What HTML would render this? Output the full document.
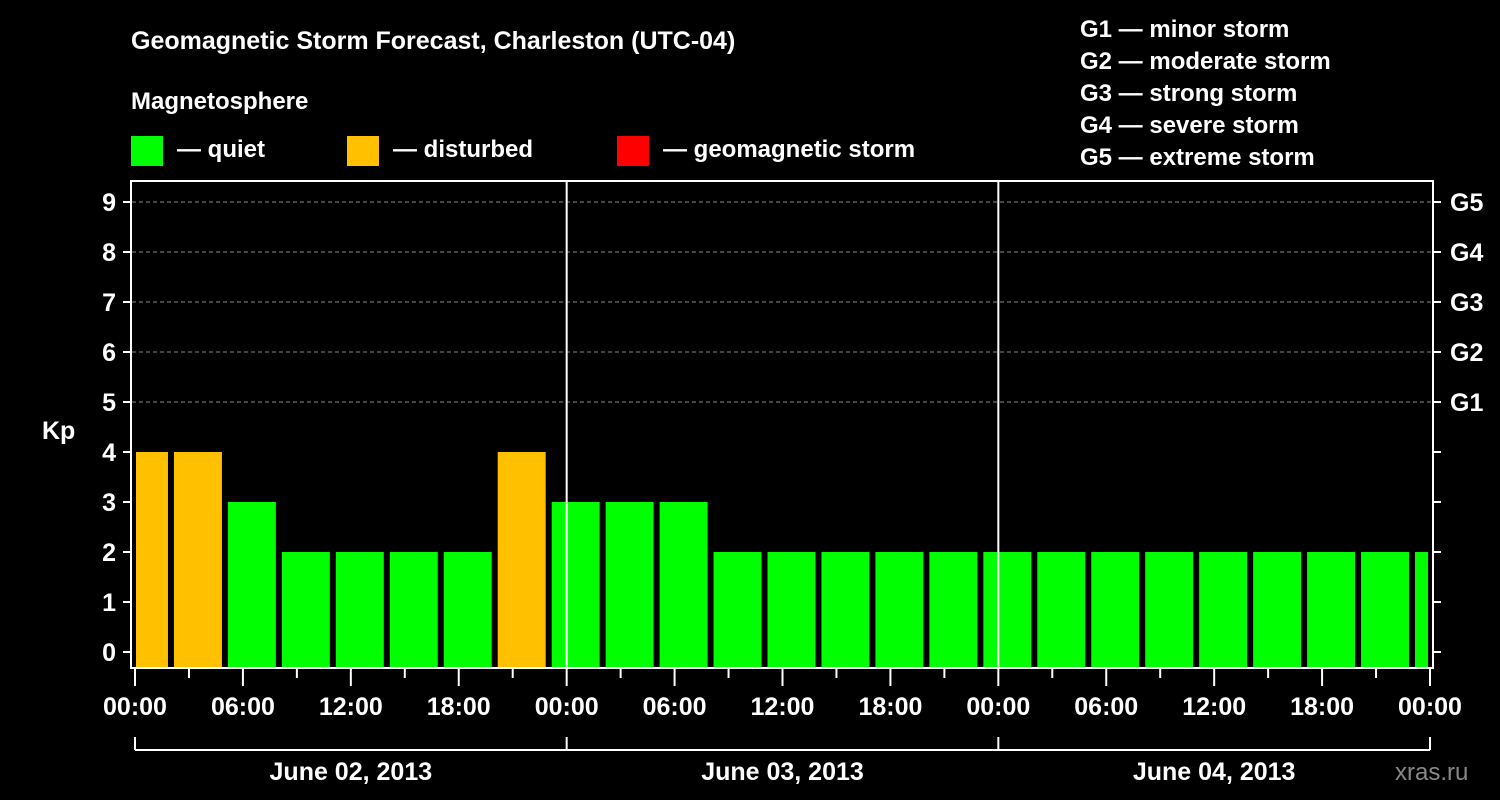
<!DOCTYPE html>
<html><head><meta charset="utf-8"><style>
body{margin:0;background:#000;}
svg{display:block;font-family:"Liberation Sans",sans-serif;font-weight:bold;}
</style></head><body>
<svg id="c" width="1500" height="800" xmlns="http://www.w3.org/2000/svg">
<rect width="1500" height="800" fill="#000"/>
<text x="131" y="49" fill="#fff" font-size="25">Geomagnetic Storm Forecast, Charleston (UTC-04)</text>
<text x="131" y="109" fill="#fff" font-size="24">Magnetosphere</text>
<g><rect x="131" y="136" width="32" height="30" fill="#00ff00"/><text x="177" y="157" fill="#fff" font-size="24">— quiet</text></g>
<g><rect x="347" y="136" width="32" height="30" fill="#ffc000"/><text x="393" y="157" fill="#fff" font-size="24">— disturbed</text></g>
<g><rect x="617" y="136" width="32" height="30" fill="#ff0000"/><text x="663" y="157" fill="#fff" font-size="24">— geomagnetic storm</text></g>
<g fill="#fff" font-size="24">
<text x="1080" y="37">G1 — minor storm</text><text x="1080" y="69">G2 — moderate storm</text><text x="1080" y="101">G3 — strong storm</text><text x="1080" y="133">G4 — severe storm</text><text x="1080" y="165">G5 — extreme storm</text></g>
<text x="42" y="439" fill="#fff" font-size="25">Kp</text>
<text x="1395" y="780" fill="#888" font-size="24" font-weight="normal">xras.ru</text>
<g id="plot"></g>
<rect x="131" y="181" width="1302" height="487" fill="none" stroke="#fff" stroke-width="2"/>
</svg>
<script>
const values=[4,4,3,2,2,2,2,4,3,3,3,2,2,2,2,2,2,2,2,2,2,2,2,2,2];
const yTicks=[0,1,2,3,4,5,6,7,8,9];
const gLabels=["","","","","","G1","G2","G3","G4","G5"];
const xLabels=["00:00","06:00","12:00","18:00","00:00","06:00","12:00","18:00","00:00","06:00","12:00","18:00","00:00"];
const dates=["June 02, 2013","June 03, 2013","June 04, 2013"];
const NS="http://www.w3.org/2000/svg";
const X=h=>135+h*(1295/72);
const Y=v=>652-v*50;
const P=document.getElementById('plot');
function mk(t,a,p){const e=document.createElementNS(NS,t);for(const k in a)e.setAttribute(k,a[k]);(p||P).appendChild(e);return e;}
yTicks.forEach((v,i)=>{
 if(v>=5){const l=mk('line',{x1:132,x2:1432,y1:Y(v),y2:Y(v),stroke:'#888','stroke-dasharray':'4,3'});
 
 }
 mk('line',{x1:123,x2:131,y1:Y(v),y2:Y(v),stroke:'#fff','stroke-width':2});
 mk('line',{x1:1433,x2:1441,y1:Y(v),y2:Y(v),stroke:'#fff','stroke-width':2});
 const t=mk('text',{x:116,y:Y(v)+9,fill:'#fff','font-size':25,'text-anchor':'end'});t.textContent=v;
 
 
 if(gLabels[i]){const g=mk('text',{x:1450,y:Y(v)+9,fill:'#fff','font-size':25});g.textContent=gLabels[i];
 
 }
});
values.forEach((v,i)=>{
 const s=-1+3*i, e=s+3;
 const x0=Math.max(X(s)+3,136), x1=Math.min(X(e)-3,1428);
 const r=mk('rect',{x:x0,y:Y(v),width:x1-x0,height:667-Y(v),fill:v>=5?'#ff0000':v>=4?'#ffc000':'#00ff00'});
 
 
});
[24,48].forEach(h=>mk('line',{x1:X(h),x2:X(h),y1:181,y2:668,stroke:'#fff','stroke-width':2}));
for(let h=0;h<=72;h+=3){mk('line',{x1:X(h),x2:X(h),y1:668,y2:h%6==0?686:678,stroke:'#fff','stroke-width':2});}
xLabels.forEach((s,i)=>{const t=mk('text',{x:X(i*6),y:715,fill:'#fff','font-size':25,'text-anchor':'middle'});t.textContent=s;
 
 });
mk('line',{x1:X(0),x2:X(72),y1:750,y2:750,stroke:'#fff','stroke-width':2});
[0,24,48,72].forEach(h=>mk('line',{x1:X(h),x2:X(h),y1:737,y2:750,stroke:'#fff','stroke-width':2}));
dates.forEach((d,i)=>{const t=mk('text',{x:X(i*24+12),y:780,fill:'#fff','font-size':25,'text-anchor':'middle'});t.textContent=d;
 
 });
</script>
</body></html>
